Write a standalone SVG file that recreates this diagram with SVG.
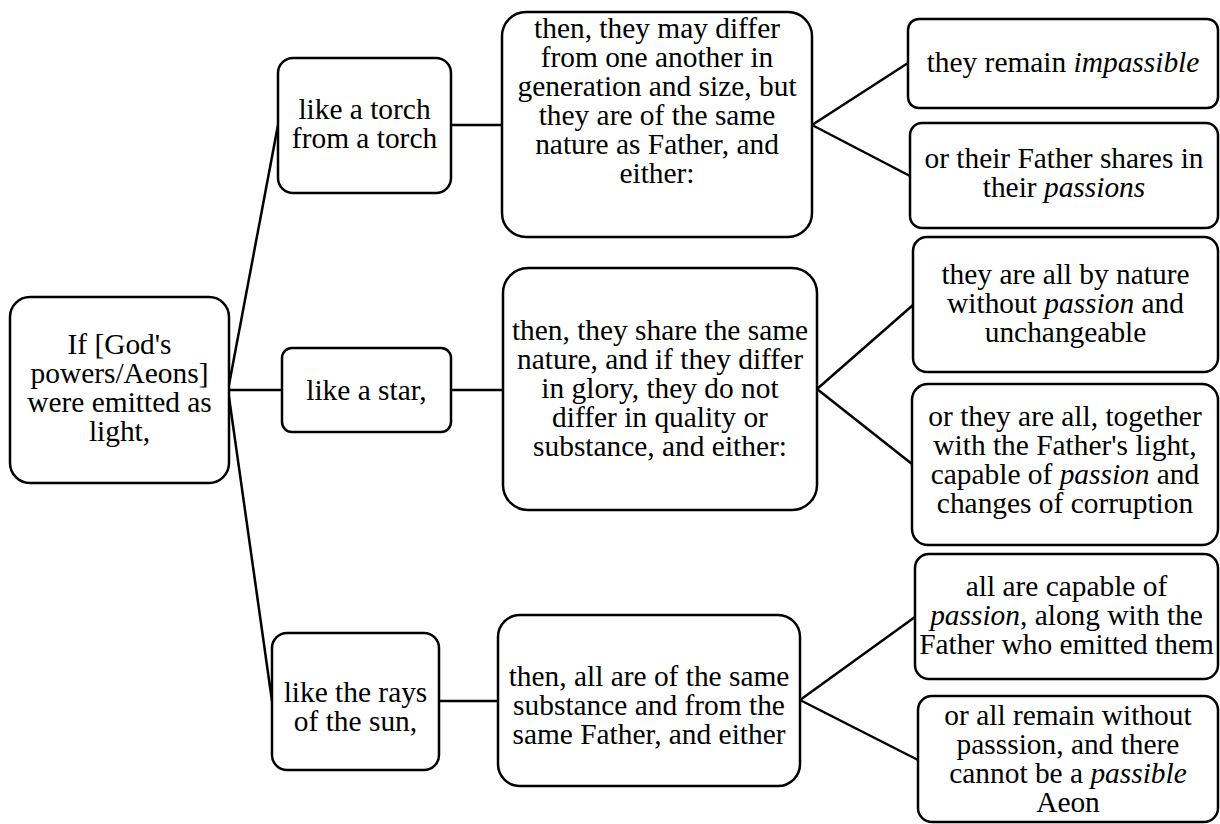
<svg xmlns="http://www.w3.org/2000/svg" width="1220" height="824" viewBox="0 0 1220 824">
<style>
rect.b{fill:#fff;stroke:#000;stroke-width:2.5}
#connectors line{stroke:#000;stroke-width:2.5}
text{font-family:"Liberation Serif","Times New Roman",serif;font-size:29.4px;fill:#000;text-anchor:middle}
.i{font-style:italic}
</style>
<rect width="1220" height="824" fill="#fff"/>
<g id="connectors">
<line x1="228" y1="390" x2="278" y2="125"/>
<line x1="228" y1="390" x2="282" y2="390"/>
<line x1="228" y1="390" x2="272" y2="701"/>
<line x1="451" y1="125" x2="502" y2="125"/>
<line x1="451" y1="390" x2="503" y2="390"/>
<line x1="439" y1="701" x2="498" y2="701"/>
<line x1="812" y1="125" x2="908" y2="63"/>
<line x1="812" y1="125" x2="910" y2="176"/>
<line x1="817" y1="389" x2="913" y2="305"/>
<line x1="817" y1="389" x2="912" y2="464"/>
<line x1="800" y1="700" x2="915" y2="617"/>
<line x1="800" y1="700" x2="918" y2="760"/>
</g>
<g id="root">
<rect class="b" x="10" y="297" width="219" height="186" rx="20"/>
<text x="119.5"><tspan x="119.5" y="354">If [God's</tspan><tspan x="119.5" y="383">powers/Aeons]</tspan><tspan x="119.5" y="412">were emitted as</tspan><tspan x="119.5" y="441">light,</tspan></text>
</g>
<g id="torch">
<rect class="b" x="278" y="58" width="173" height="135" rx="15"/>
<text><tspan x="364.5" y="119">like a torch</tspan><tspan x="364.5" y="148">from a torch</tspan></text>
</g>
<g id="star">
<rect class="b" x="282" y="348" width="169" height="84" rx="10"/>
<text x="366.5" y="400">like a star,</text>
</g>
<g id="sun">
<rect class="b" x="272" y="633" width="167" height="137" rx="15"/>
<text><tspan x="355.5" y="702">like the rays</tspan><tspan x="355.5" y="731">of the sun,</tspan></text>
</g>
<g id="torch-detail">
<rect class="b" x="502" y="12" width="310" height="225" rx="24"/>
<text><tspan x="657" y="38">then, they may differ</tspan><tspan x="657" y="67">from one another in</tspan><tspan x="657" y="96">generation and size, but</tspan><tspan x="657" y="125">they are of the same</tspan><tspan x="657" y="154">nature as Father, and</tspan><tspan x="657" y="183">either:</tspan></text>
</g>
<g id="star-detail">
<rect class="b" x="503" y="268" width="314" height="242" rx="25"/>
<text><tspan x="660" y="340">then, they share the same</tspan><tspan x="660" y="369">nature, and if they differ</tspan><tspan x="660" y="398">in glory, they do not</tspan><tspan x="660" y="427">differ in quality or</tspan><tspan x="660" y="456">substance, and either:</tspan></text>
</g>
<g id="sun-detail">
<rect class="b" x="498" y="615" width="302" height="171" rx="22"/>
<text><tspan x="649" y="686">then, all are of the same</tspan><tspan x="649" y="715">substance and from the</tspan><tspan x="649" y="744">same Father, and either</tspan></text>
</g>
<g id="leaf1">
<rect class="b" x="908" y="19" width="310" height="89" rx="11"/>
<text x="1063" y="72">they remain <tspan class="i">impassible</tspan></text>
</g>
<g id="leaf2">
<rect class="b" x="910" y="123" width="308" height="105" rx="12"/>
<text><tspan x="1064" y="168">or their Father shares in</tspan><tspan x="1064" y="197">their <tspan class="i">passions</tspan></tspan></text>
</g>
<g id="leaf3">
<rect class="b" x="913" y="237" width="305" height="135" rx="14"/>
<text><tspan x="1065.5" y="284">they are all by nature</tspan><tspan x="1065.5" y="313">without <tspan class="i">passion</tspan> and</tspan><tspan x="1065.5" y="342">unchangeable</tspan></text>
</g>
<g id="leaf4">
<rect class="b" x="912" y="384" width="306" height="161" rx="16"/>
<text><tspan x="1065" y="426">or they are all, together</tspan><tspan x="1065" y="455">with the Father's light,</tspan><tspan x="1065" y="484">capable of <tspan class="i">passion</tspan> and</tspan><tspan x="1065" y="513">changes of corruption</tspan></text>
</g>
<g id="leaf5">
<rect class="b" x="915" y="554" width="303" height="125" rx="14"/>
<text><tspan x="1066.5" y="596">all are capable of</tspan><tspan x="1066.5" y="625"><tspan class="i">passion</tspan>, along with the</tspan><tspan x="1066.5" y="654">Father who emitted them</tspan></text>
</g>
<g id="leaf6">
<rect class="b" x="918" y="696" width="300" height="126" rx="14"/>
<text><tspan x="1068" y="725">or all remain without</tspan><tspan x="1068" y="754">passsion, and there</tspan><tspan x="1068" y="783">cannot be a <tspan class="i">passible</tspan></tspan><tspan x="1068" y="812">Aeon</tspan></text>
</g>
</svg>
